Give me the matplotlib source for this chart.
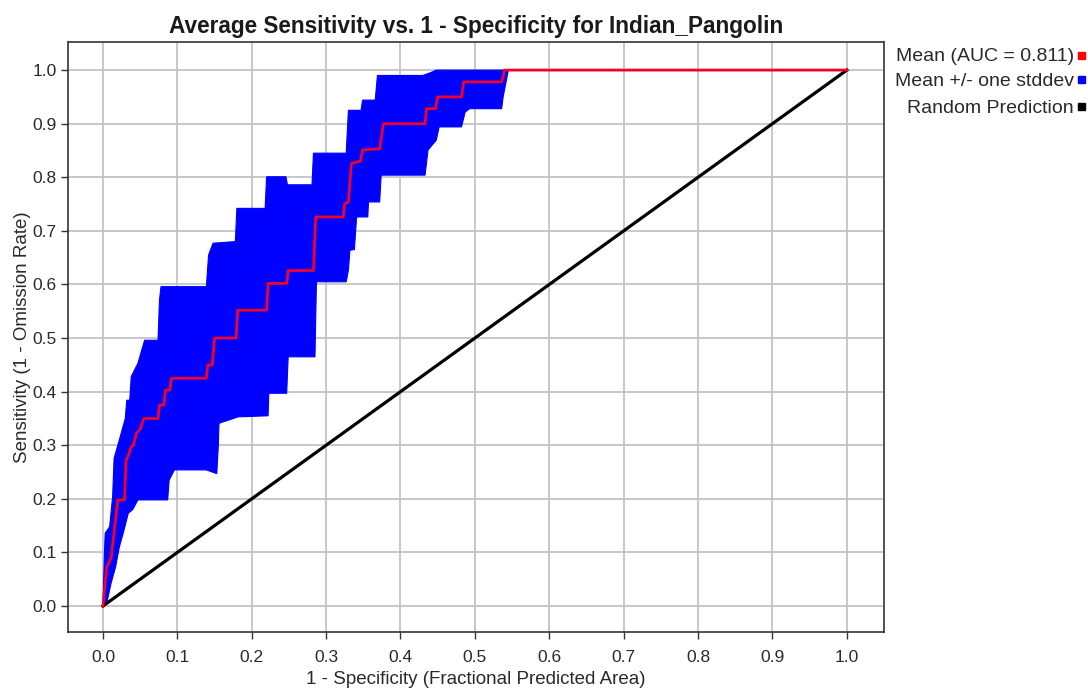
import numpy as np
import matplotlib
matplotlib.use("Agg")
import matplotlib.pyplot as plt

plt.rcParams["font.family"] = ["Liberation Sans", "DejaVu Sans"]

title = "Average Sensitivity vs. 1 - Specificity for Indian_Pangolin"
xlabel = "1 - Specificity (Fractional Predicted Area)"
ylabel = "Sensitivity (1 - Omission Rate)"
legend_labels = ["Mean (AUC = 0.811)", "Mean +/- one stddev", "Random Prediction"]
ticks = [0.0, 0.1, 0.2, 0.3, 0.4, 0.5, 0.6, 0.7, 0.8, 0.9, 1.0]

# Mean ROC curve vertices
mean_x = [0, 0.005, 0.008, 0.011, 0.020, 0.029, 0.031, 0.034, 0.038, 0.041, 0.045, 0.050,
          0.055, 0.074, 0.076, 0.082, 0.084, 0.090, 0.092, 0.139, 0.141, 0.147, 0.150,
          0.179, 0.181, 0.220, 0.222, 0.247, 0.249, 0.283, 0.286, 0.323, 0.325, 0.330,
          0.334, 0.346, 0.349, 0.372, 0.377, 0.433, 0.435, 0.447, 0.450,
          0.482, 0.485, 0.536, 0.540, 1.0]
mean_y = [0, 0.073, 0.080, 0.090, 0.198, 0.198, 0.272, 0.280, 0.297, 0.300, 0.322, 0.330,
          0.350, 0.350, 0.375, 0.375, 0.403, 0.403, 0.425, 0.425, 0.450, 0.450, 0.500,
          0.500, 0.552, 0.552, 0.602, 0.602, 0.626, 0.626, 0.726, 0.726, 0.751, 0.754,
          0.826, 0.830, 0.851, 0.853, 0.900, 0.900, 0.928, 0.928, 0.950,
          0.950, 0.978, 0.978, 1.0, 1.0]

# Upper edge of mean + stddev band
up_x = [0, 0.002, 0.003, 0.009, 0.013, 0.015, 0.020, 0.030, 0.032, 0.036, 0.038, 0.047,
        0.056, 0.074, 0.076, 0.078, 0.139, 0.142, 0.148, 0.178, 0.180, 0.218, 0.220,
        0.246, 0.248, 0.281, 0.283, 0.327, 0.330, 0.347, 0.349, 0.366, 0.369, 0.430,
        0.440, 0.448, 1.0]
up_y = [0, 0.100, 0.136, 0.148, 0.204, 0.276, 0.300, 0.350, 0.384, 0.384, 0.428, 0.453,
        0.496, 0.496, 0.571, 0.596, 0.596, 0.655, 0.677, 0.680, 0.742, 0.742, 0.801,
        0.801, 0.786, 0.786, 0.845, 0.845, 0.925, 0.925, 0.944, 0.944, 0.990, 0.990,
        0.995, 1.0, 1.0]

# Lower edge of mean - stddev band
lo_x = [0, 0.005, 0.011, 0.017, 0.022, 0.028, 0.034, 0.040, 0.047, 0.087, 0.089, 0.096,
        0.139, 0.153, 0.155, 0.156, 0.182, 0.222, 0.223, 0.247, 0.249, 0.285, 0.287,
        0.327, 0.330, 0.332, 0.338, 0.341, 0.356, 0.357, 0.372, 0.374, 0.433, 0.437,
        0.448, 0.452, 0.482, 0.487, 0.493, 0.536, 0.538, 0.545, 1.0]
lo_y = [0, 0.005, 0.043, 0.073, 0.110, 0.140, 0.173, 0.180, 0.198, 0.198, 0.235, 0.254,
        0.254, 0.247, 0.297, 0.341, 0.353, 0.355, 0.397, 0.397, 0.465, 0.465, 0.605,
        0.605, 0.627, 0.664, 0.665, 0.726, 0.726, 0.754, 0.754, 0.804, 0.804, 0.851,
        0.869, 0.894, 0.894, 0.922, 0.928, 0.928, 0.950, 1.0, 1.0]

rand_x = [0.0, 1.0]
rand_y = [0.0, 1.0]

fig = plt.figure(figsize=(10.88, 6.89), dpi=100)
ax = fig.add_axes([0.0625, 0.0827, 0.75, 0.856])

ax.fill(np.concatenate([up_x, lo_x[::-1]]), np.concatenate([up_y, lo_y[::-1]]),
        color="#0000ff", lw=0.8, zorder=2)
ax.plot(rand_x, rand_y, color="black", lw=2.3, zorder=3)
ax.plot(mean_x, mean_y, color="#f2002a", lw=2.0, zorder=4)

ax.set_xlim(-0.047, 1.05)
ax.set_ylim(-0.0485, 1.052)
ax.set_xticks(ticks)
ax.set_yticks(ticks)
ax.set_xticklabels([f"{t:.1f}" for t in ticks])
ax.set_yticklabels([f"{t:.1f}" for t in ticks])
ax.grid(True, color="#c4c4c4", lw=1.3, zorder=0)
ax.set_axisbelow(True)
ax.tick_params(direction="out", length=5, width=1, colors="#333333", labelsize=12.5,
               labelcolor="#2a2a2a")
ax.tick_params(axis="x", pad=8)
ax.tick_params(axis="y", pad=3)
for s in ax.spines.values():
    s.set_color("#333333")
    s.set_linewidth(1.2)

ax.set_title(title, fontsize=16.3, fontweight="bold", pad=7, color="#1a1a1a")
ax.set_xlabel(xlabel, fontsize=13.5, labelpad=4, color="#2a2a2a")
ax.set_ylabel(ylabel, fontsize=13.5, labelpad=1, color="#2a2a2a")

# Legend: right-aligned text with coloured squares at right
leg_colors = ["#ff0000", "#0000ff", "#000000"]
leg_y = [0.918, 0.882, 0.843]
for lab, c, yy in zip(legend_labels, leg_colors, leg_y):
    fig.text(0.987, yy, lab, ha="right", va="center", fontsize=14, color="#2a2a2a")
    fig.patches.append(plt.Rectangle((0.9905, yy - 0.003), 0.0064, 0.0102,
                                     transform=fig.transFigure, color=c, figure=fig))

fig.savefig("out.png", dpi=100)
